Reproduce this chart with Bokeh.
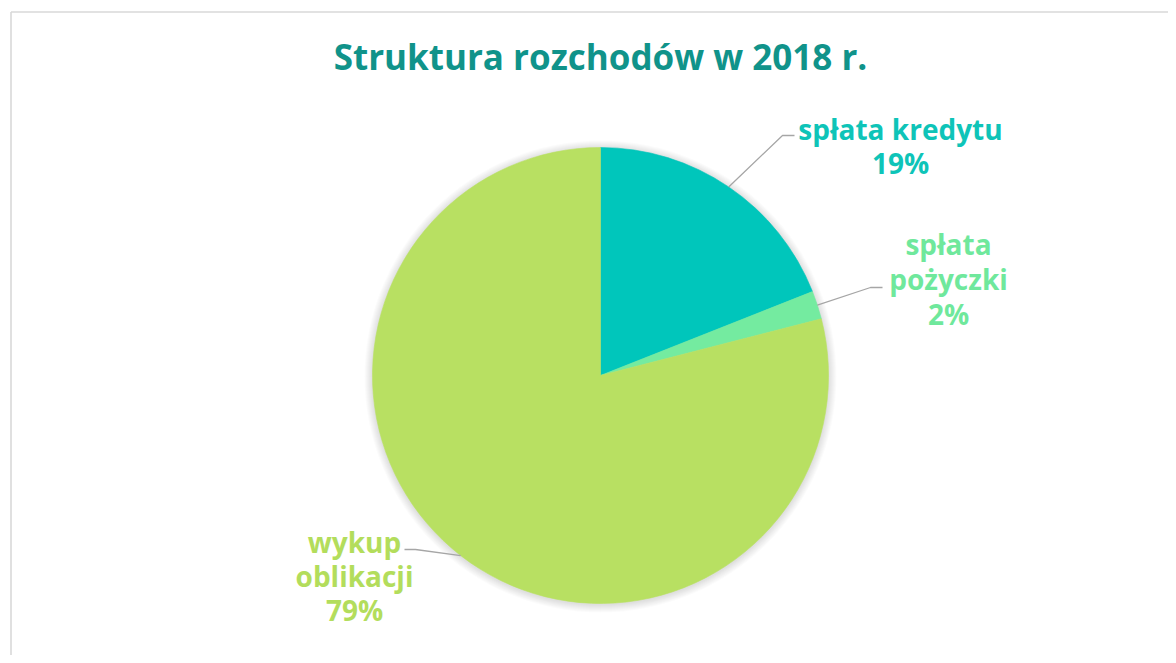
import numpy as np
from bokeh.plotting import figure
from bokeh.models import Range1d
from bokeh.core.properties import value
from bokeh.embed import file_html
from bokeh.resources import INLINE

# ---- data ----
categories = ["spłata kredytu", "spłata pożyczki", "wykup oblikacji"]
shares = [19, 2, 79]
label_lines = [["spłata kredytu", "19%"], ["spłata", "pożyczki", "2%"], ["wykup", "oblikacji", "79%"]]
title_text = "Struktura rozchodów w 2018 r."

# ---- style / layout ----
colors = ["#00C6BB", "#74EBA0", "#B8E062"]
text_colors = ["#0EC4B8", "#6FE89C", "#B3DD5C"]
title_color = "#10938A"
FONT = "Open Sans"
W, H = 1168, 655
CX, CY, R = 600, 375, 228          # page pixel coords
label_anchor = [(900, 128), (948, 243), (354, 541)]   # centre x, first-line centre y
line_gap = [34, 35, 34]
elbow = [[(782, 135), (794, 135)], [(870, 287), (882, 287)], [(415, 549), (404, 549)]]


def Y(py):
    return H - py


p = figure(width=W, height=H, output_backend="svg", toolbar_location=None,
           x_range=Range1d(0, W), y_range=Range1d(0, H),
           min_border=0, outline_line_color=None)
p.axis.visible = False
p.grid.visible = False
p.background_fill_color = "white"
p.border_fill_color = "white"

# chart border (left/top visible)
p.segment(x0=[10.5, 10.5], y0=[Y(11.5), Y(11.5)], x1=[10.5, 1200], y1=[-20, Y(11.5)],
          line_color="#D9D9D9", line_width=1.6)

# soft shadow
for k in range(1, 9):
    p.circle(x=CX, y=Y(CY + 1), radius=R + k, fill_color="black", fill_alpha=0.016, line_color=None)

vals = np.array(shares, dtype=float)
frac = vals / vals.sum()
ends = np.cumsum(frac) * 2 * np.pi
starts = np.concatenate([[0], ends[:-1]])
start_angle = np.pi / 2 - starts
end_angle = np.pi / 2 - ends
p.wedge(x=CX, y=Y(CY), radius=R, start_angle=list(start_angle), end_angle=list(end_angle),
        direction="clock", fill_color=colors, line_color=colors, line_width=0.6)

# leader lines
mid = np.pi / 2 - (starts + ends) / 2
for i in range(len(shares)):
    sx = CX + R * np.cos(mid[i])
    sy = CY - R * np.sin(mid[i])
    xs = [sx] + [e[0] for e in elbow[i]]
    ys = [Y(sy)] + [Y(e[1]) for e in elbow[i]]
    p.line(xs, ys, line_color="#A6A6A6", line_width=1.3)

# labels
for i, lines in enumerate(label_lines):
    ax, ay = label_anchor[i]
    for j, t in enumerate(lines):
        p.text(x=[ax], y=[Y(ay + j * line_gap[i])], text=[t], text_align="center",
               text_baseline="middle", text_font=value(FONT), text_font_style="bold",
               text_font_size="28px", text_color=text_colors[i])

# title
p.text(x=[600], y=[Y(56)], text=[title_text], text_align="center", text_baseline="middle",
       text_font=value(FONT), text_font_style="bold", text_font_size="35px", text_color=title_color)

open("out.html", "w").write(file_html(p, INLINE))
